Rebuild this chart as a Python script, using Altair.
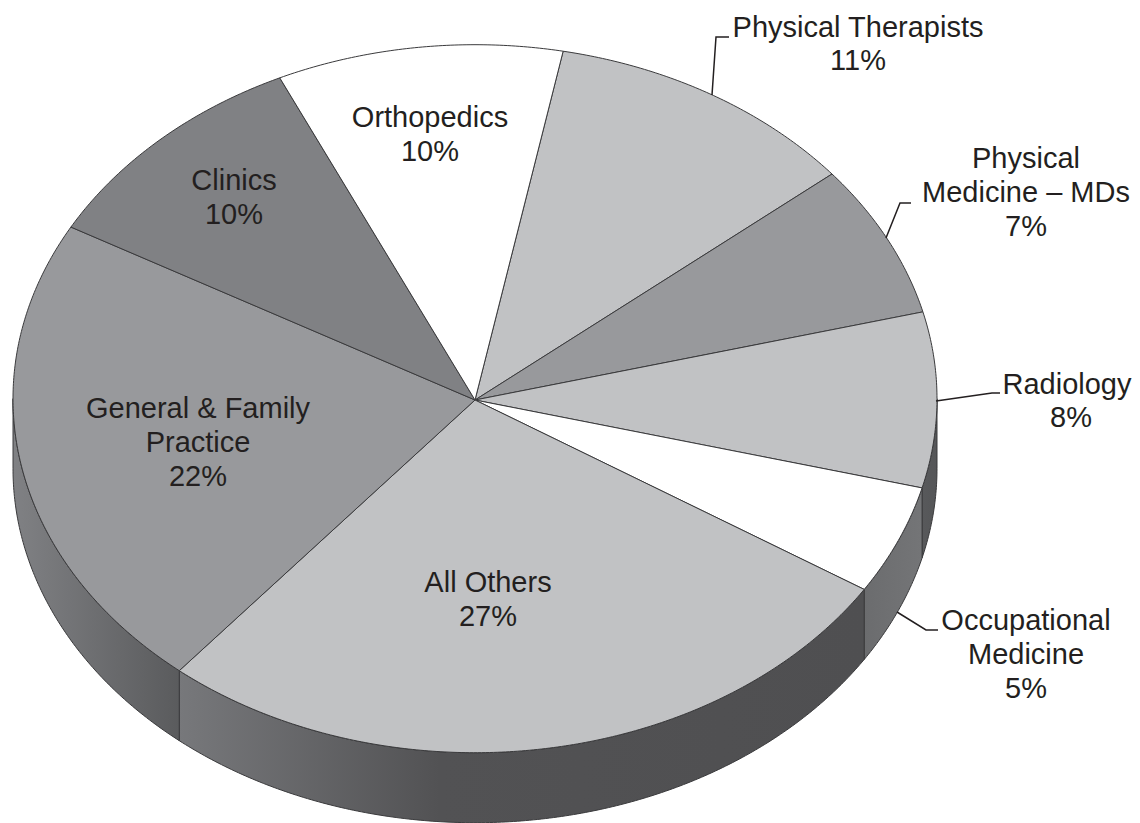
import numpy as np
import altair as alt

# ---- chart values ----
names = ["Physical Therapists", "Physical Medicine – MDs", "Radiology", "Occupational Medicine",
         "All Others", "General & Family Practice", "Clinics", "Orthopedics"]
values = [11, 7, 8, 5, 27, 22, 10, 10]
face_colors = ["#c1c2c4", "#98999c", "#c1c2c4", "#ffffff", "#c1c2c4", "#98999c", "#808184", "#ffffff"]

label_lines = ["Physical Therapists", "11%", "Physical", "Medicine – MDs", "7%", "Radiology", "8%",
               "Occupational", "Medicine", "5%", "All Others", "27%", "General & Family", "Practice", "22%",
               "Clinics", "10%", "Orthopedics", "10%"]
label_x = [858, 858, 1026, 1026, 1026, 1067, 1071, 1026, 1026, 1026, 488, 488, 198, 198, 198, 234, 234, 430, 430]
label_y = [28, 61, 159, 193, 227, 385, 418, 621, 655, 689, 583, 617, 409, 443, 477, 181, 215, 118, 152]

leaders = [
    [[712, 95], [716, 37], [729, 37]],
    [[886, 238], [900, 203], [911, 203]],
    [[936, 401], [992, 393], [1000, 393]],
    [[897, 612], [926, 630], [938, 630]],
]

# ---- pie geometry ----
CX, CY, RX, RY, DEPTH = 475, 398.7, 462, 354, 70
APEX = [475, 400]
START = 11.0
PROJ = dict(type="identity", scale=1, translate=[-8, -8])


def rim(a, b, dy=0.0):
    ts = np.radians(np.linspace(a, b, max(int(abs(b - a) * 2), 2) + 1))
    return [[float(CX + RX * np.sin(t)), float(CY - RY * np.cos(t) + dy)] for t in ts]


def feature(geom_type, coords, **props):
    return {"type": "Feature", "geometry": {"type": geom_type, "coordinates": coords}, "properties": props}


def geo_data(features):
    return alt.InlineData(values={"type": "FeatureCollection", "features": features},
                          format=alt.DataFormat(type="json", property="features"))


edges = START + np.concatenate([[0], np.cumsum(values)]) * 3.6

wall_gradients = {
    "Radiology": [(0, "#58595b"), (1, "#555658")],
    "Occupational Medicine": [(0, "#6b6c6e"), (1, "#747577")],
    "All Others": [(0, "#77787b"), (0.38, "#525254"), (1, "#4f4f51")],
    "General & Family Practice": [(0, "#808184"), (1, "#5a5b5d")],
}
layers = []
for i, name in enumerate(names):
    a, b = max(edges[i], 90), min(edges[i + 1], 270)
    if b <= a:
        continue
    ring = rim(a, b) + rim(b, a, DEPTH)
    ring.append(ring[0])
    grad = {"gradient": "linear", "x1": 0, "y1": 0, "x2": 1, "y2": 0,
            "stops": [{"offset": o, "color": c} for o, c in wall_gradients[name]]}
    layers.append(
        alt.Chart(geo_data([feature("Polygon", [ring], name=name)]))
        .mark_geoshape(fill=grad, stroke="#3a3a3c", strokeWidth=1)
        .project(**PROJ)
    )

faces = []
for i, name in enumerate(names):
    ring = [APEX] + rim(edges[i], edges[i + 1]) + [APEX]
    faces.append(feature("Polygon", [ring], name=name))
layers.append(
    alt.Chart(geo_data(faces))
    .mark_geoshape(stroke="#3a3a3c", strokeWidth=1)
    .encode(fill=alt.Fill("properties.name:N", scale=alt.Scale(domain=names, range=face_colors), legend=None))
    .project(**PROJ)
)

layers.append(
    alt.Chart(geo_data([feature("LineString", c) for c in leaders]))
    .mark_geoshape(filled=False, stroke="#231f20", strokeWidth=1.5)
    .project(**PROJ)
)

labels = alt.Chart(alt.Data(values=[{"t": t, "x": x, "y": y} for t, x, y in zip(label_lines, label_x, label_y)]))
layers.append(
    labels.mark_text(font="Liberation Sans", fontSize=29, color="#231f20", align="center", baseline="middle")
    .encode(longitude="x:Q", latitude="y:Q", text="t:N")
    .project(**PROJ)
)

chart = alt.layer(*layers).properties(
    width=1124, height=815, padding=0, autosize=alt.AutoSizeParams(type="none"), background="white"
).configure_view(stroke=None)

chart.save("out.html", embed_options={"renderer": "svg", "actions": False})
